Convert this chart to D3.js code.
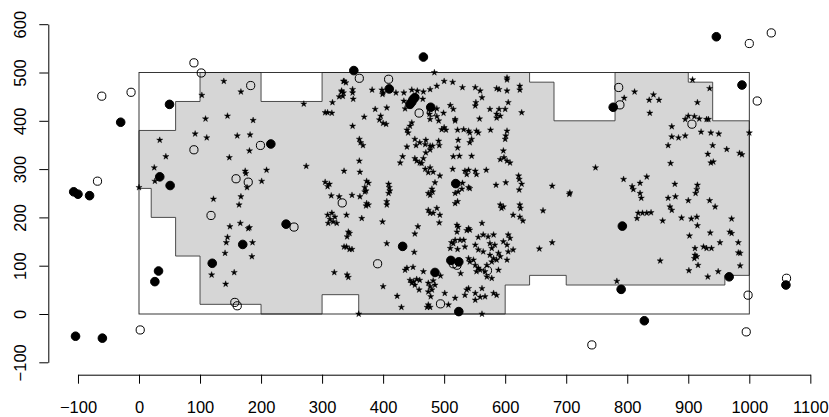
<!DOCTYPE html>
<html>
<head>
<meta charset="utf-8">
<script src="https://cdn.jsdelivr.net/npm/d3@7"></script>
<style>
  body { margin: 0; background: #fff; }
  svg { display: block; }
</style>
</head>
<body>
<svg id="chart"></svg>
<script>
// Point pattern in an irregular window: stars inside, circles for the two mark types outside
const width = 829;
const height = 417;

// window polygon (data units)
const windowPoly = [
    [0,380],[60,380],[60,440],[100,440],[100,500],[200,500],[200,440],[300,440],[300,500],
    [640,500],[640,480],[680,480],[680,400],[780,400],[780,500],[900,500],[900,480],[940,480],
    [940,400],[1000,400],[1000,80],[960,80],[960,60],[700,60],[700,80],[640,80],[640,60],
    [600,60],[600,0],[360,0],[360,40],[300,40],[300,0],[200,0],[200,20],[100,20],[100,120],
    [60,120],[60,200],[20,200],[20,260],[0,260]
];
const frameBox = [0, 1000, 0, 500];

// points inside the window
const starPoints = [
    [139,482],[103,453],[167,460],[270,435],[109,404],[145,410],[187,401],[92,373],[111,365],[161,369],
    [182,371],[34,360],[44,326],[148,324],[181,338],[25,303],[26,275],[174,296],[175,291],[209,298],
    [201,275],[177,262],[274,306],[305,417],[309,417],[316,416],[317,438],[328,450],[332,460],[335,482],
    [305,273],[312,269],[309,264],[0,262],[336,296],
    [122,238],[167,243],[164,226],[149,181],[166,188],[179,177],[181,179],[145,159],[143,148],[186,148],
    [141,126],[185,119],[119,81],[156,86],[142,62],[315,245],[328,243],[309,205],[316,209],[321,201],
    [310,188],[318,191],[324,188],[313,196],[320,86],[336,139],
    [484,500],[336,482],[339,479],[332,462],[335,458],[334,451],[350,465],[350,458],[351,445],[382,464],
    [398,464],[400,458],[399,455],[421,458],[434,458],[447,464],[456,462],[466,460],[477,465],[488,472],
    [500,482],[514,480],[530,469],[551,469],[559,462],[562,448],[552,438],[551,431],[586,467],[590,465],
    [603,462],[603,489],[603,485],[624,472],[624,464],[605,438],[600,424],[590,424],[586,414],[586,406],
    [592,410],[627,417],[575,424],[434,441],[436,425],[488,425],[476,414],[465,445],[387,424],[406,427],
    [369,408],[396,410],[394,402],[400,395],[405,393],[350,389],[488,409],[491,400],[499,416],[500,386],
    [496,382],[503,381],[477,403],[510,432],[515,424],[518,403],[518,400],[558,404],[447,396],[444,389],
    [439,381],[441,375],[522,381],[532,382],[540,379],[542,375],[553,379],[556,375],[576,381],[603,379],
    [601,369],[600,362],[361,362],[363,355],[367,349],[439,346],[452,362],[454,349],[460,355],[470,360],
    [469,351],[477,348],[491,358],[492,349],[481,348],[523,360],[522,344],[542,355],[545,362],[597,338],
    [432,326],[428,313],[452,322],[455,317],[460,313],[466,322],[463,312],[470,334],[477,340],[515,326],
    [525,327],[545,327],[592,320],[598,324],[603,317],[608,313],[361,317],[362,294],[469,300],[477,303],
    [474,293],[482,294],[493,286],[514,300],[534,296],[540,298],[537,289],[551,296],[553,289],[569,298],
    [622,286],[623,279],[627,269],[601,272],[585,267],[373,275],[376,271],[370,262],[372,255],[409,269],
    [410,262],[411,255],[485,272],[480,259],[481,253],[530,271],[529,259],[540,262],[623,257],[542,260],
    [907,485],[935,467],[795,447],[812,460],[836,443],[843,454],[852,443],[837,416],[915,438],[895,403],
    [900,410],[910,409],[918,404],[930,403],[933,403],[873,388],[873,367],[884,365],[895,369],[921,377],
    [937,375],[950,373],[867,349],[940,349],[963,341],[932,331],[937,313],[941,315],[984,333],[988,330],
    [1000,375],[871,312],[748,303],[794,279],[808,264],[810,258],[821,271],[832,284],[878,269],[915,267],
    [914,258],[677,265],[706,251],
    [705,248],[821,250],[823,240],[867,240],[879,243],[900,235],[912,250],[935,235],[944,222],[870,222],
    [873,215],[818,209],[825,209],[832,209],[839,210],[816,198],[858,193],[889,199],[905,197],[914,201],
    [915,183],[971,197],[902,162],[936,168],[968,170],[971,167],[952,148],[982,148],[911,136],[925,139],
    [930,136],[938,136],[911,122],[914,119],[910,115],[982,127],[985,126],[854,110],[916,101],[985,100],
    [901,90],[949,88],[932,77],[677,148],[783,68],
    [349,246],[362,243],[370,253],[373,229],[376,226],[372,224],[406,233],[406,226],[409,250],[340,205],
    [365,198],[399,191],[474,250],[477,246],[474,215],[477,209],[482,209],[488,219],[493,205],[492,189],
    [518,229],[522,233],[518,250],[523,253],[521,184],[523,180],[521,170],[540,177],[542,174],[537,173],
    [562,188],[592,226],[594,219],[597,222],[624,226],[625,219],[613,205],[624,201],[629,193],[662,214],
    [656,135],[343,170],[341,160],[345,167],[340,139],[345,134],[349,134],[406,146],[457,181],[452,166],
    [451,128],[515,146],[510,136],[518,153],[526,153],[532,153],[522,134],[534,139],[551,143],[556,159],
    [564,164],[572,160],[581,164],[575,146],[583,143],[578,136],[575,122],[581,115],[586,112],[578,108],
    [570,101],[564,129],[556,133],[592,119],[605,164],[608,157],[603,143],[605,129],[603,112],[613,133],
    [597,150],[589,126],[540,115],[542,108],[548,112],[551,101],[556,95],[553,88],[559,91],[567,88],
    [570,77],[578,74],[589,91],[527,84],[494,79],[466,88],[436,91],[439,95],[449,97],[444,70],
    [450,67],[455,72],[460,70],[452,60],[447,64],[474,64],[477,57],[480,50],[474,46],[485,60],
    [482,69],[459,50],[478,36],[400,57],[341,81],[343,76],[423,37],[430,14],[474,19],[472,14],
    [477,14],[501,43],[507,19],[518,33],[534,39],[537,50],[540,53],[551,43],[551,29],[559,35],
    [567,36],[562,53],[581,43],[586,39],[562,0],[360,0],[512,148]
];

// filled circles
const filledPoints = [
    [-107,253],[-100,248],[-81,245],[-30,397],[50,434],[34,284],[51,266],[216,352],[352,504],[410,466],
    [466,532],[449,444],[452,448],[444,434],[447,439],[478,428],[519,270],[241,186],[170,144],[120,105],
    [32,89],[26,67],[-104,-46],[-60,-50],[432,140],[511,111],[524,108],[485,86],[524,5],[946,574],
    [988,474],[777,428],[792,182],[967,77],[790,51],[828,-14],[1060,60]
];

// open circles
const openPoints = [
    [90,520],[102,499],[183,473],[-61,451],[-13,459],[90,340],[199,349],[159,280],[179,273],[-68,275],
    [118,204],[157,24],[161,17],[2,-33],[361,488],[409,486],[459,416],[479,418],[333,230],[254,180],
    [391,104],[515,104],[521,101],[571,90],[494,21],[1000,560],[1036,582],[1013,441],[786,469],[788,433],
    [906,393],[998,39],[742,-64],[995,-37],[1061,74]
];

const xTicks = [-100,0,100,200,300,400,500,600,700,800,900,1000,1100];
const yTicks = [-100,0,100,200,300,400,500,600];

const svg = d3.select("#chart")
    .attr("width", width)
    .attr("height", height);

svg.append("rect").attr("width", width).attr("height", height).attr("fill", "#fff");

const x = d3.scaleLinear().domain([0, 1000]).range([139, 749.3]);
const y = d3.scaleLinear().domain([0, 500]).range([314, 72.5]);

// window
const line = d3.line().x(d => x(d[0])).y(d => y(d[1]));
svg.append("path")
    .attr("d", line(windowPoly) + "Z")
    .attr("fill", "#d6d6d6")
    .attr("stroke", "#3a3a3a")
    .attr("stroke-width", 0.9);

svg.append("rect")
    .attr("x", x(frameBox[0]))
    .attr("y", y(frameBox[3]))
    .attr("width", x(frameBox[1]) - x(frameBox[0]))
    .attr("height", y(frameBox[2]) - y(frameBox[3]))
    .attr("fill", "none")
    .attr("stroke", "#222")
    .attr("stroke-width", 0.9);

// stars
const star = d3.symbol().type(d3.symbolStar).size(12);
svg.append("g").selectAll("path")
    .data(starPoints)
    .enter()
    .append("path")
    .attr("d", star)
    .attr("transform", d => `translate(${x(d[0])},${y(d[1])})`)
    .attr("fill", "#000")
    .attr("stroke", "#000")
    .attr("stroke-width", 0.4);

// circles
svg.append("g").selectAll("circle")
    .data(filledPoints)
    .enter()
    .append("circle")
    .attr("cx", d => x(d[0]))
    .attr("cy", d => y(d[1]))
    .attr("r", 4.3)
    .attr("fill", "#000")
    .attr("stroke", "#000")
    .attr("stroke-width", 1);

svg.append("g").selectAll("circle")
    .data(openPoints)
    .enter()
    .append("circle")
    .attr("cx", d => x(d[0]))
    .attr("cy", d => y(d[1]))
    .attr("r", 4.1)
    .attr("fill", "none")
    .attr("stroke", "#000")
    .attr("stroke-width", 1);

// axes
const xAxisScale = x.copy().domain([-100, 1100]).range([x(-100), x(1100)]);
const yAxisScale = y.copy().domain([-100, 600]).range([y(-100), y(600)]);

const fmt = d => d < 0 ? "\u2212" + Math.abs(d) : d;

const xAxis = svg.append("g")
    .attr("transform", "translate(0,374.7)")
    .call(d3.axisBottom(xAxisScale).tickValues(xTicks).tickSize(9).tickSizeOuter(0).tickFormat(fmt));

const yAxis = svg.append("g")
    .attr("transform", "translate(48.3,0)")
    .call(d3.axisLeft(yAxisScale).tickValues(yTicks).tickSize(9).tickSizeOuter(0).tickFormat(fmt));

[xAxis, yAxis].forEach(g => {
    g.attr("font-family", "'Liberation Sans', Arial, sans-serif").attr("font-size", 16.5);
    g.select(".domain").attr("stroke", "#000").attr("stroke-width", 1);
    g.selectAll(".tick line").attr("stroke", "#000").attr("stroke-width", 1);
    g.selectAll(".tick text").attr("fill", "#000");
});

xAxis.selectAll(".tick text")
    .attr("y", 0)
    .attr("dy", 0)
    .attr("transform", "translate(0,38)");

yAxis.selectAll(".tick text")
    .attr("x", 0)
    .attr("dy", 0)
    .attr("text-anchor", "middle")
    .attr("transform", "translate(-22,0) rotate(-90)");
</script>
</body>
</html>
